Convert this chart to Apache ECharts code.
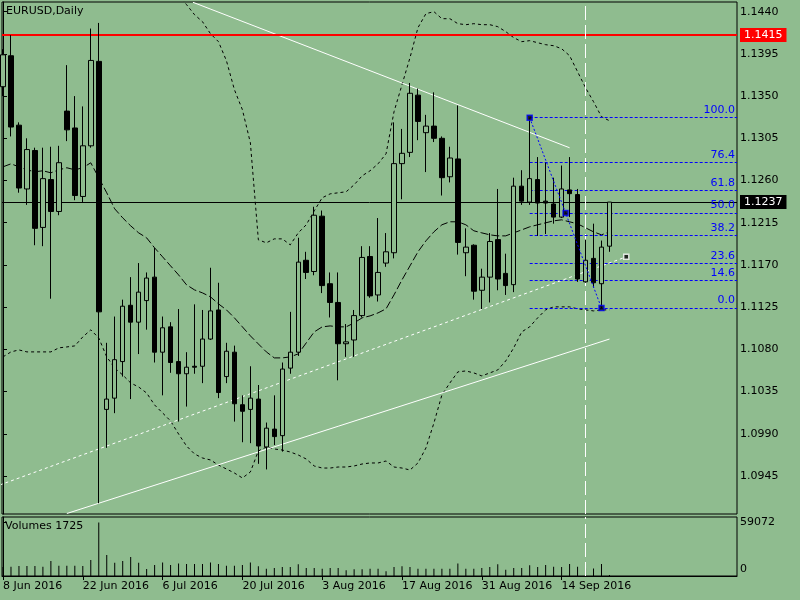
<!DOCTYPE html>
<html>
<head>
<meta charset="utf-8">
<script src="https://cdn.jsdelivr.net/npm/echarts@6/dist/echarts.min.js"></script>
<style>
html,body{margin:0;padding:0;background:#8FBC8F;}
#c{width:800px;height:600px;}
</style>
</head>
<body>
<div id="c"></div>
<script>
const dates = ['8 Jun 2016','9 Jun 2016','10 Jun 2016','13 Jun 2016','14 Jun 2016','15 Jun 2016','16 Jun 2016','17 Jun 2016','20 Jun 2016','21 Jun 2016',
'22 Jun 2016','23 Jun 2016','24 Jun 2016','27 Jun 2016','28 Jun 2016','29 Jun 2016','30 Jun 2016','1 Jul 2016','4 Jul 2016','5 Jul 2016',
'6 Jul 2016','7 Jul 2016','8 Jul 2016','11 Jul 2016','12 Jul 2016','13 Jul 2016','14 Jul 2016','15 Jul 2016','18 Jul 2016','19 Jul 2016',
'20 Jul 2016','21 Jul 2016','22 Jul 2016','25 Jul 2016','26 Jul 2016','27 Jul 2016','28 Jul 2016','29 Jul 2016','1 Aug 2016','2 Aug 2016',
'3 Aug 2016','4 Aug 2016','5 Aug 2016','8 Aug 2016','9 Aug 2016','10 Aug 2016','11 Aug 2016','12 Aug 2016','15 Aug 2016','16 Aug 2016',
'17 Aug 2016','18 Aug 2016','19 Aug 2016','22 Aug 2016','23 Aug 2016','24 Aug 2016','25 Aug 2016','26 Aug 2016','29 Aug 2016','30 Aug 2016',
'31 Aug 2016','1 Sep 2016','2 Sep 2016','5 Sep 2016','6 Sep 2016','7 Sep 2016','8 Sep 2016','9 Sep 2016','12 Sep 2016','13 Sep 2016',
'14 Sep 2016','15 Sep 2016','16 Sep 2016','19 Sep 2016','20 Sep 2016','21 Sep 2016','22 Sep 2016'];

const opens = [1.1360,1.1393,1.1319,1.1251,1.1292,1.1210,1.1261,1.1227,1.1334,1.1316,
1.1243,1.1297,1.1387,1.1016,1.1028,1.1067,1.1127,1.1109,1.1132,1.1157,
1.1077,1.1104,1.1067,1.1054,1.1062,1.1062,1.1091,1.1122,1.1051,1.1077,
1.1021,1.1016,1.1027,1.0976,1.0995,1.0988,1.1060,1.1077,1.1175,1.1163,
1.1222,1.1150,1.1130,1.1086,1.1090,1.1116,1.1179,1.1138,1.1172,1.1183,
1.1278,1.1290,1.1351,1.1311,1.1318,1.1305,1.1264,1.1283,1.1183,1.1191,
1.1143,1.1157,1.1197,1.1161,1.1149,1.1254,1.1237,1.1261,1.1238,1.1235,
1.1221,1.1250,1.1245,1.1152,1.1177,1.1150,1.1190];
const closes = [1.1394,1.1317,1.1252,1.1293,1.1209,1.1262,1.1227,1.1279,1.1314,1.1244,
1.1297,1.1388,1.1120,1.1027,1.1069,1.1126,1.1109,1.1141,1.1156,1.1077,
1.1103,1.1066,1.1054,1.1061,1.1061,1.1091,1.1121,1.1034,1.1078,1.1022,
1.1014,1.1028,1.0977,1.0996,1.0987,1.1059,1.1077,1.1173,1.1162,1.1223,
1.1148,1.1130,1.1086,1.1088,1.1116,1.1178,1.1137,1.1162,1.1184,1.1278,
1.1289,1.1353,1.1323,1.1318,1.1305,1.1263,1.1284,1.1194,1.1189,1.1142,
1.1157,1.1195,1.1155,1.1148,1.1254,1.1238,1.1262,1.1236,1.1236,1.1221,
1.1251,1.1246,1.1155,1.1175,1.1151,1.1189,1.1237];
const lows = [1.1350,1.1307,1.1247,1.1234,1.1191,1.1190,1.1134,1.1223,1.1302,1.1239,
1.1237,1.1295,1.0916,1.0975,1.1012,1.1051,1.1027,1.1075,1.1101,1.1066,
1.1031,1.1055,1.1003,1.1019,1.1054,1.1044,1.1090,1.1028,1.1044,1.1003,
1.0981,1.0980,1.0958,1.0952,1.0978,1.0971,1.1054,1.1073,1.1155,1.1159,
1.1140,1.1114,1.1047,1.1072,1.1072,1.1114,1.1135,1.1131,1.1168,1.1177,
1.1240,1.1285,1.1303,1.1269,1.1301,1.1244,1.1258,1.1181,1.1158,1.1133,
1.1123,1.1130,1.1143,1.1138,1.1141,1.1234,1.1234,1.1201,1.1203,1.1214,
1.1220,1.1221,1.1152,1.1151,1.1146,1.1124,1.1184];
const highs = [1.1400,1.1415,1.1322,1.1305,1.1295,1.1295,1.1296,1.1297,1.1383,1.1350,
1.1339,1.1422,1.1428,1.1087,1.1115,1.1133,1.1157,1.1172,1.1162,1.1188,
1.1115,1.1109,1.1123,1.1077,1.1128,1.1122,1.1167,1.1151,1.1087,1.1084,
1.1031,1.1062,1.1042,1.1002,1.1031,1.1066,1.1120,1.1199,1.1184,1.1232,
1.1228,1.1162,1.1162,1.1107,1.1122,1.1190,1.1190,1.1220,1.1204,1.1322,
1.1315,1.1364,1.1358,1.1330,1.1354,1.1307,1.1296,1.1340,1.1209,1.1192,
1.1166,1.1204,1.1251,1.1182,1.1263,1.1271,1.1327,1.1285,1.1279,1.1263,
1.1276,1.1285,1.1251,1.1197,1.1214,1.1196,1.1237];
const volumes = [10000,10300,11000,11000,11000,10300,16500,11400,11400,11400,
11000,17600,59072,23100,14700,16500,20900,14700,7700,12100,
15000,12100,13900,13200,13200,13200,15000,13200,11400,11400,
12100,14800,10700,8100,8900,10000,10000,12900,8900,8900,
8100,8900,8900,6300,7400,7400,8100,8100,5200,10000,
10700,10000,8100,8100,8100,8100,8100,13700,8100,8100,
8900,10000,12900,7000,8900,8900,11800,10000,12100,10300,
10000,13200,10300,8500,8400,13200,1100];
const bandUpper = [1.1478,1.1479,1.1475,1.1472,1.1470,1.1471,1.1468,1.1470,1.1472,1.1468,
1.1465,1.1468,1.1492,1.1505,1.1510,1.1508,1.1505,1.1500,1.1495,1.1490,
1.1480,1.1470,1.1458,1.14475,1.14368,1.14293,1.14165,1.14080,1.13877,1.13568,
1.13355,1.13002,1.11968,1.11936,1.11978,1.11978,1.11914,1.12042,1.12128,1.12277,
1.12416,1.12458,1.12469,1.12480,1.12554,1.12650,1.12704,1.12778,1.12885,1.13333,
1.13621,1.13909,1.14229,1.14379,1.14400,1.14325,1.14325,1.14272,1.14261,1.14272,
1.14261,1.14261,1.14240,1.14187,1.14123,1.14080,1.14091,1.14069,1.14048,1.14037,
1.14005,1.13931,1.13760,1.13589,1.13440,1.13280,1.13237];
const bandMiddle = [1.12746,1.12778,1.12746,1.12714,1.12693,1.12704,1.12682,1.12714,1.12736,1.12714,
1.12736,1.12789,1.12629,1.12469,1.12298,1.12202,1.12117,1.12042,1.11989,1.11882,
1.11786,1.11690,1.11594,1.11488,1.11434,1.11402,1.11360,1.11285,1.11221,1.11136,
1.11040,1.10944,1.10858,1.10773,1.10709,1.10709,1.10720,1.10752,1.10869,1.10986,
1.11040,1.11050,1.11040,1.11040,1.11082,1.11136,1.11157,1.11189,1.11232,1.11381,
1.11541,1.11690,1.11840,1.11957,1.12053,1.12128,1.12160,1.12160,1.12128,1.12064,
1.12042,1.12021,1.12010,1.12010,1.12042,1.12074,1.12106,1.12128,1.12149,1.12170,
1.12181,1.12160,1.12138,1.12096,1.12053,1.12021,1.12053];
const bandLower = [1.10720,1.10773,1.10794,1.10773,1.10773,1.10773,1.10773,1.10816,1.10826,1.10837,
1.10933,1.11008,1.10922,1.10720,1.10602,1.10527,1.10442,1.10399,1.10335,1.10207,
1.10122,1.10037,1.09898,1.09770,1.09685,1.09642,1.09621,1.09567,1.09525,1.09482,
1.09429,1.09493,1.09717,1.09759,1.09738,1.09727,1.09706,1.09674,1.09631,1.09557,
1.09535,1.09535,1.09546,1.09546,1.09557,1.09578,1.09589,1.09589,1.09610,1.09546,
1.09535,1.09514,1.09589,1.09749,1.10015,1.10314,1.10442,1.10560,1.10570,1.10549,
1.10517,1.10549,1.10581,1.10677,1.10816,1.10986,1.11040,1.11136,1.11221,1.11253,
1.11253,1.11253,1.11232,1.11221,1.11210,1.11221,1.11221];

const priceTicks = [1.1440,1.1395,1.1350,1.1305,1.1260,1.1215,1.1170,1.1125,1.1080,1.1035,1.0990,1.0945];
const dateTickIdx = [0,10,20,30,40,50,60,70];
const volumeTicks = [0,59072];

const redLevel = 1.1415;
const bidLevel = 1.1237;
const vLineIdx = 73;

const fibStartIdx = 66, fibHigh = 1.1327;
const fibEndIdx = 75, fibLow = 1.1124;
const fibMidIdx = 70.5;
const fibLevels = [100.0,76.4,61.8,50.0,38.2,23.6,14.6,0.0];

const trendUpper = [[23.8,1.1450],[71.0,1.12949]];
const trendLower = [[8.0,1.0905],[76.0,1.1091]];
const trendDashed = [[-0.41,1.09354],[78.1,1.11786]];
const whiteMarker = [[78.1,1.11786]];

const X_MIN = -0.125, X_MAX = 91.98;
const Y_MIN = 1.09045, Y_MAX = 1.14503;
const BG = '#8FBC8F';
const FONT = 'DejaVu Sans';

const idx = dates.map((d,i)=>i);
const candleData = idx.map(i=>[i, opens[i], closes[i], lows[i], highs[i]]);
const volData = idx.map(i=>[i, volumes[i]]);
const toXY = arr => idx.map(i=>[i, arr[i]]);
const fibPrice = l => fibLow + l/100*(fibHigh - fibLow);

const chart = echarts.init(document.getElementById('c'), null, {renderer:'canvas'});
chart.setOption({
  animation:false,
  backgroundColor:BG,
  textStyle:{fontFamily:FONT},
  title:[
    {text:'EURUSD,Daily', left:6, top:6, padding:0, textStyle:{fontSize:11, fontWeight:'normal', color:'#000', fontFamily:FONT}},
    {text:'Volumes 1725', left:5, top:521, padding:0, textStyle:{fontSize:11, fontWeight:'normal', color:'#000', fontFamily:FONT}}
  ],
  grid:[
    {left:2, top:2, width:735, height:512, show:true, borderColor:'#000', borderWidth:1, backgroundColor:'transparent'},
    {left:2, top:517, width:735, height:59, show:true, borderColor:'#000', borderWidth:1, backgroundColor:'transparent'}
  ],
  xAxis:[
    {gridIndex:0, type:'value', min:X_MIN, max:X_MAX, show:false, splitLine:{show:false}},
    {gridIndex:1, type:'value', min:X_MIN, max:X_MAX, splitLine:{show:false},
     axisLine:{show:true, onZero:false, lineStyle:{color:'#000'}},
     axisTick:{show:true, length:4, customValues:dateTickIdx, lineStyle:{color:'#000'}},
     axisLabel:{customValues:dateTickIdx, formatter:v=>dates[Math.round(v)], align:'left', color:'#000', fontSize:11, fontFamily:FONT, margin:5}}
  ],
  yAxis:[
    {gridIndex:0, type:'value', position:'right', min:Y_MIN, max:Y_MAX, splitLine:{show:false},
     axisLine:{show:true, lineStyle:{color:'#000'}},
     axisTick:{show:true, length:4, customValues:priceTicks, lineStyle:{color:'#000'}},
     axisLabel:{customValues:priceTicks, formatter:v=>v.toFixed(4), color:'#000', fontSize:11, fontFamily:FONT, margin:3}},
    {gridIndex:1, type:'value', position:'right', min:0, max:65231, splitLine:{show:false},
     axisLine:{show:true, lineStyle:{color:'#000'}},
     axisTick:{show:true, length:4, customValues:volumeTicks, lineStyle:{color:'#000'}},
     axisLabel:{customValues:volumeTicks, color:'#000', fontSize:11, fontFamily:FONT, margin:3,
       formatter:v=> v===0 ? '{z|0}' : String(v),
       rich:{z:{padding:[0,0,14,0], fontSize:11, color:'#000', fontFamily:FONT}}}}
  ],
  series:[
    {type:'line', name:'upper', xAxisIndex:0, yAxisIndex:0, data:toXY(bandUpper), symbol:'none', clip:true,
     lineStyle:{color:'#000', width:1, type:[3,3]}, z:2},
    {type:'line', name:'lower', xAxisIndex:0, yAxisIndex:0, data:toXY(bandLower), symbol:'none', clip:true,
     lineStyle:{color:'#000', width:1, type:[3,3]}, z:2},
    {type:'line', name:'middle', xAxisIndex:0, yAxisIndex:0, data:toXY(bandMiddle), symbol:'none', clip:true,
     lineStyle:{color:'#000', width:1, type:[8,3]}, z:2,
     markLine:{silent:true, symbol:['none','none'], animation:false, precision:4,
       data:[
         {yAxis:redLevel, lineStyle:{color:'#ff0000', width:2, type:'solid'},
          label:{show:true, position:'end', distance:3, formatter:redLevel.toFixed(4), color:'#fff', backgroundColor:'#ff0000', padding:[2,4,1,4], fontSize:11, fontFamily:FONT}},
         {yAxis:bidLevel, lineStyle:{color:'#000', width:1, type:'solid'},
          label:{show:true, position:'end', distance:3, formatter:bidLevel.toFixed(4), color:'#fff', backgroundColor:'#000', padding:[2,4,1,4], fontSize:11, fontFamily:FONT}},
         {xAxis:vLineIdx, lineStyle:{color:'#fff', width:1, type:[14,5]}, label:{show:false}}
       ]}},
    {type:'line', name:'trendUpper', data:trendUpper, symbol:'none', clip:true, lineStyle:{color:'#fff', width:1}, z:3},
    {type:'line', name:'trendLower', data:trendLower, symbol:'none', clip:true, lineStyle:{color:'#fff', width:1}, z:3},
    {type:'line', name:'trendDashed', data:trendDashed, symbol:'none', clip:true, lineStyle:{color:'#fff', width:1, type:[3,3]}, z:3},
    {type:'candlestick', name:'EURUSD', xAxisIndex:0, yAxisIndex:0, data:candleData, encode:{x:0, y:[1,2,3,4]},
     barWidth:5, clip:true, z:5,
     itemStyle:{color:BG, color0:'#000', borderColor:'#000', borderColor0:'#000', borderWidth:1}},
    {type:'line', name:'fibDiag', data:[[fibStartIdx,fibHigh],[fibEndIdx,fibLow]], symbol:'none', clip:true,
     lineStyle:{color:'#0000ff', width:1, type:[2,2]}, z:6,
     markLine:{silent:true, symbol:['none','none'], animation:false,
       lineStyle:{color:'#0000ff', width:1, type:[3,2]},
       label:{show:true, position:'insideEndTop', distance:2, color:'#0000ff', fontSize:11, fontFamily:FONT, formatter:p=>p.name},
       data: fibLevels.map(l=>[{coord:[fibStartIdx, fibPrice(l)], name:l.toFixed(1)},{coord:[X_MAX, fibPrice(l)]}])}},
    {type:'scatter', name:'fibAnchors', data:[[fibStartIdx,fibHigh],[fibEndIdx,fibLow],[fibMidIdx,fibPrice(50)]],
     symbol:'rect', symbolSize:5, z:7, itemStyle:{color:'#000', borderColor:'#0000ff', borderWidth:1.5}},
    {type:'scatter', name:'marker', data:whiteMarker, symbol:'rect', symbolSize:5, z:7,
     itemStyle:{color:'#000', borderColor:'#fff', borderWidth:1.5}},
    {type:'bar', name:'Volumes', xAxisIndex:1, yAxisIndex:1, data:volData, barWidth:1, z:3,
     itemStyle:{color:'#000'},
     markLine:{silent:true, symbol:['none','none'], animation:false,
       data:[{xAxis:vLineIdx, lineStyle:{color:'#fff', width:1, type:[14,5]}, label:{show:false}}]}}
  ]
});
</script>
</body>
</html>
